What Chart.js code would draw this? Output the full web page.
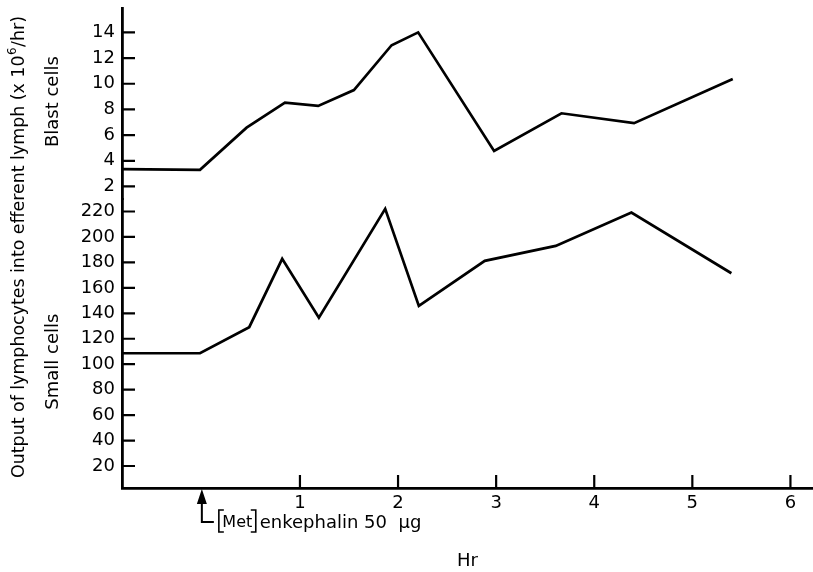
<!DOCTYPE html>
<html><head><meta charset="utf-8">
<script src="https://cdn.jsdelivr.net/npm/chart.js@4.4.1/dist/chart.umd.min.js"></script>
<style>html,body{margin:0;padding:0;background:#fff;}canvas{display:block;}</style>
</head><body>
<canvas id="c" width="813" height="572"></canvas>
<script>
// Hours after [Met]enkephalin injection
const blastHours  = [-0.814, -0.019, 0.456, 0.847, 1.186, 1.55, 1.934, 2.205, 2.979, 3.666, 4.406, 5.412];
const blastValues = [3.35, 3.3, 6.58, 8.53, 8.27, 9.51, 13.0, 14.0, 4.77, 7.70, 6.93, 10.37];
const smallHours  = [-0.814, -0.019, 0.483, 0.819, 1.193, 1.869, 2.212, 2.884, 3.607, 4.379, 5.398];
const smallValues = [108.6, 108.6, 129.1, 182.8, 136.6, 222.1, 145.8, 181.2, 193.0, 219.2, 171.5];
const hourTicks  = [1, 2, 3, 4, 5, 6];
const blastTicks = [2, 4, 6, 8, 10, 12, 14];
const smallTicks = [20, 40, 60, 80, 100, 120, 140, 160, 180, 200, 220];
const yTitleParts = ['Output of lymphocytes into efferent lymph (x 10', '6', '/hr)'];
const blastLabel = 'Blast cells';
const smallLabel = 'Small cells';
const xTitle = 'Hr';
const injectionLabel = 'enkephalin 50  \u03bcg';
const injectionBracket = 'Met';

const FONT = 'DejaVu Sans';
Chart.defaults.font.family = FONT;
Chart.defaults.color = '#000';

const toPts = (xs, ys) => xs.map((x, i) => ({x, y: ys[i]}));

const fixTicks = arr => (scale) => { scale.ticks = arr.map(v => ({value: v})); };

const decor = {
  id: 'decor',
  afterDraw(chart) {
    const ctx = chart.ctx;
    const xs = chart.scales.x, yb = chart.scales.yb, ys = chart.scales.ys;
    const ca = chart.chartArea;
    ctx.save();
    ctx.strokeStyle = '#000';
    ctx.fillStyle = '#000';
    ctx.lineWidth = 2.2;
    // inward tick marks
    const axX = ca.left;
    ctx.beginPath();
    blastTicks.forEach(v => { const p = yb.getPixelForValue(v); ctx.moveTo(axX, p); ctx.lineTo(axX + 13, p); });
    smallTicks.forEach(v => { const p = ys.getPixelForValue(v); ctx.moveTo(axX, p); ctx.lineTo(axX + 13, p); });
    hourTicks.forEach(v => { const p = xs.getPixelForValue(v); ctx.moveTo(p, ca.bottom); ctx.lineTo(p, ca.bottom - 13); });
    ctx.stroke();

    // rotated titles
    const rot = (text, x, y, size) => {
      ctx.save();
      ctx.translate(x, y);
      ctx.rotate(-Math.PI / 2);
      ctx.font = size + 'px "' + FONT + '"';
      ctx.textAlign = 'center';
      ctx.textBaseline = 'middle';
      ctx.fillText(text, 0, 0);
      ctx.restore();
    };
    // main title with superscript
    ctx.save();
    ctx.translate(19, 247);
    ctx.rotate(-Math.PI / 2);
    ctx.textBaseline = 'middle';
    ctx.textAlign = 'left';
    const mainF = '17.4px "' + FONT + '"', supF = '12px "' + FONT + '"';
    ctx.font = mainF; const w0 = ctx.measureText(yTitleParts[0]).width, w2 = ctx.measureText(yTitleParts[2]).width;
    ctx.font = supF; const w1 = ctx.measureText(yTitleParts[1]).width;
    let px = -(w0 + w1 + w2 + 1) / 2;
    ctx.font = mainF; ctx.fillText(yTitleParts[0], px, 0); px += w0 + 0.5;
    ctx.font = supF; ctx.fillText(yTitleParts[1], px, -6); px += w1 + 0.5;
    ctx.font = mainF; ctx.fillText(yTitleParts[2], px, 0);
    ctx.restore();
    rot(blastLabel, 53, (yb.top + yb.bottom) / 2 - 2, 18);
    rot(smallLabel, 53, (ys.top + ys.bottom) / 2 + 18, 18);

    // injection arrow
    const ax = xs.getPixelForValue(0);
    const tipY = ca.bottom + 1;
    ctx.beginPath();
    ctx.moveTo(ax, tipY);
    ctx.lineTo(ax - 5, tipY + 15);
    ctx.lineTo(ax + 5, tipY + 15);
    ctx.closePath();
    ctx.fill();
    ctx.lineWidth = 2;
    const ty = 522;
    ctx.beginPath();
    ctx.moveTo(ax, tipY + 14);
    ctx.lineTo(ax, ty);
    ctx.lineTo(ax + 12, ty);
    ctx.stroke();
    // brackets
    const bl = ax + 17, bTop = 510, bBot = 532;
    ctx.font = '16px "' + FONT + '"';
    const mw = ctx.measureText(injectionBracket).width;
    const br = bl + mw + 7;
    ctx.lineWidth = 1.6;
    ctx.beginPath();
    ctx.moveTo(bl + 5, bTop); ctx.lineTo(bl, bTop); ctx.lineTo(bl, bBot); ctx.lineTo(bl + 5, bBot);
    ctx.moveTo(br - 5, bTop); ctx.lineTo(br, bTop); ctx.lineTo(br, bBot); ctx.lineTo(br - 5, bBot);
    ctx.stroke();
    ctx.textAlign = 'left';
    ctx.textBaseline = 'middle';
    ctx.fillText(injectionBracket, bl + 3.5, ty + 1);
    ctx.font = '18px "' + FONT + '"';
    ctx.fillText(injectionLabel, br + 4, ty + 1);
    ctx.restore();
  }
};

new Chart(document.getElementById('c'), {
  type: 'line',
  data: {
    datasets: [
      { label: blastLabel, data: toPts(blastHours, blastValues), xAxisID: 'x', yAxisID: 'yb',
        borderColor: '#000', borderWidth: 2.7, pointRadius: 0, tension: 0, fill: false, clip: false },
      { label: smallLabel, data: toPts(smallHours, smallValues), xAxisID: 'x', yAxisID: 'ys',
        borderColor: '#000', borderWidth: 2.7, pointRadius: 0, tension: 0, fill: false, clip: false }
    ]
  },
  options: {
    responsive: false,
    animation: false,
    devicePixelRatio: 1,
    layout: { padding: { left: 0, right: 0, top: 8, bottom: 0 } },
    plugins: { legend: { display: false }, tooltip: { enabled: false } },
    scales: {
      ys: {
        type: 'linear', position: 'left', stack: 'left', stackWeight: 289,
        min: 2.7, max: 229.6,
        afterBuildTicks: fixTicks(smallTicks),
        afterFit: (s) => { s.width = 122; s.paddingTop = 0; s.paddingBottom = 0; },
        grid: { display: false, drawTicks: false },
        border: { display: true, color: '#000', width: 2.8 },
        ticks: { padding: 7, font: { size: 18 }, color: '#000', autoSkip: false }
      },
      yb: {
        type: 'linear', position: 'left', stack: 'left', stackWeight: 191.5,
        min: 1, max: 15.9,
        afterBuildTicks: fixTicks(blastTicks),
        afterFit: (s) => { s.width = 122; s.paddingTop = 0; s.paddingBottom = 0; },
        grid: { display: false, drawTicks: false },
        border: { display: true, color: '#000', width: 2.8 },
        ticks: { padding: 7, font: { size: 18 }, color: '#000', autoSkip: false }
      },
      x: {
        type: 'linear', position: 'bottom',
        min: -0.814, max: 6.23,
        afterBuildTicks: fixTicks(hourTicks),
        afterFit: (s) => { s.height = 84; s.paddingLeft = 0; s.paddingRight = 0; },
        grid: { display: false, drawTicks: false },
        border: { display: true, color: '#000', width: 2.8 },
        ticks: { padding: 5, font: { size: 18 }, color: '#000', maxRotation: 0, autoSkip: false },
        title: { display: true, text: xTitle, font: { size: 18 }, color: '#000', padding: { top: 0, bottom: 0 } }
      }
    }
  },
  plugins: [decor]
});
</script>
</body></html>
